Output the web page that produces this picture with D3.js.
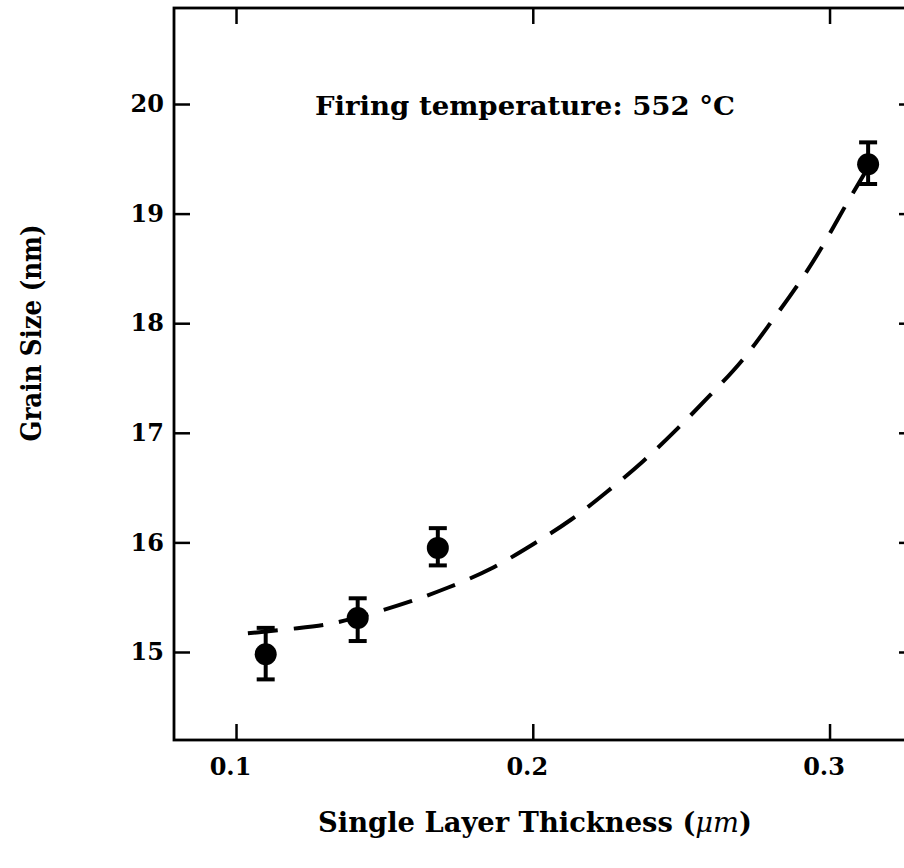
<!DOCTYPE html>
<html>
<head>
<meta charset="utf-8">
<script src="https://cdn.jsdelivr.net/npm/d3@7"></script>
<style>
  html, body { margin: 0; padding: 0; background: #fff; }
  svg { display: block; }
  .axis text { font-family: "DejaVu Serif", serif; font-weight: bold; font-size: 24px; fill: #000; }
  .axis line { stroke: #000; stroke-width: 2.5; }
  .axis path { display: none; }
</style>
</head>
<body>
<svg id="chart"></svg>
<script>
// measured points (thickness in um, grain size in nm)
const thickness = [0.110, 0.141, 0.168, 0.313];
const grainSize = [14.98, 15.31, 15.95, 19.45];
const errLow = [14.75, 15.10, 15.79, 19.27];
const errHigh = [15.22, 15.49, 16.13, 19.65];

// dashed fit curve
const fitX = [0.104, 0.122, 0.132, 0.147, 0.159, 0.171, 0.186, 0.200, 0.213, 0.225,
  0.237, 0.249, 0.260, 0.271, 0.280, 0.289, 0.298, 0.305, 0.313];
const fitY = [15.17, 15.22, 15.25, 15.36, 15.46, 15.58, 15.75, 15.98, 16.20, 16.46,
  16.73, 17.04, 17.35, 17.66, 18.00, 18.33, 18.71, 19.06, 19.42];

const xTicks = [0.1, 0.2, 0.3];
const yTicks = [15, 16, 17, 18, 19, 20];

const W = 904, H = 868;
const frame = { left: 174, right: 915, top: 8, bottom: 740 };

const svg = d3.select("#chart")
  .attr("width", W)
  .attr("height", H);

const xScale = d3.scaleLinear()
  .domain([0.0791, 0.3288])
  .range([frame.left, frame.right]);

const yScale = d3.scaleLinear()
  .domain([14.197, 20.876])
  .range([frame.bottom, frame.top]);

const tickLen = 16;

// axes with inward ticks on all four sides
svg.append("g")
  .attr("class", "axis")
  .attr("transform", `translate(0,${frame.bottom})`)
  .call(d3.axisBottom(xScale).tickValues(xTicks).tickSize(-tickLen).tickPadding(tickLen + 2)
    .tickFormat(d3.format(".1f")))
  .selectAll("text").attr("dx", -6);

svg.append("g")
  .attr("class", "axis")
  .attr("transform", `translate(0,${frame.top})`)
  .call(d3.axisTop(xScale).tickValues(xTicks).tickSize(-tickLen).tickFormat(""));

svg.append("g")
  .attr("class", "axis")
  .attr("transform", `translate(${frame.left},0)`)
  .call(d3.axisLeft(yScale).tickValues(yTicks).tickSize(-tickLen).tickPadding(10)
    .tickFormat(d3.format("d")));

svg.append("g")
  .attr("class", "axis")
  .attr("transform", `translate(${frame.right},0)`)
  .call(d3.axisRight(yScale).tickValues(yTicks).tickSize(-tickLen).tickFormat(""));

// frame
svg.append("rect")
  .attr("x", frame.left)
  .attr("y", frame.top)
  .attr("width", frame.right - frame.left)
  .attr("height", frame.bottom - frame.top)
  .attr("fill", "none")
  .attr("stroke", "#000")
  .attr("stroke-width", 2.8);

// fit curve
const fit = fitX.map((x, i) => [x, fitY[i]]);
const line = d3.line()
  .x(d => xScale(d[0]))
  .y(d => yScale(d[1]))
  .curve(d3.curveBasis);

svg.append("path")
  .datum(fit)
  .attr("d", line)
  .attr("fill", "none")
  .attr("stroke", "#000")
  .attr("stroke-width", 4)
  .attr("stroke-dasharray", "30,16");

// points with error bars
const pts = thickness.map((x, i) => ({ x, y: grainSize[i], lo: errLow[i], hi: errHigh[i] }));
const pg = svg.append("g");

pg.selectAll(".bar")
  .data(pts)
  .enter()
  .append("line")
  .attr("x1", d => xScale(d.x))
  .attr("x2", d => xScale(d.x))
  .attr("y1", d => yScale(d.lo))
  .attr("y2", d => yScale(d.hi))
  .attr("stroke", "#000")
  .attr("stroke-width", 4);

["lo", "hi"].forEach(k => {
  pg.selectAll(".cap-" + k)
    .data(pts)
    .enter()
    .append("line")
    .attr("x1", d => xScale(d.x) - 9)
    .attr("x2", d => xScale(d.x) + 9)
    .attr("y1", d => yScale(d[k]))
    .attr("y2", d => yScale(d[k]))
    .attr("stroke", "#000")
    .attr("stroke-width", 4);
});

pg.selectAll("circle")
  .data(pts)
  .enter()
  .append("circle")
  .attr("cx", d => xScale(d.x))
  .attr("cy", d => yScale(d.y))
  .attr("r", 11)
  .attr("fill", "#000");

// annotation
svg.append("text")
  .attr("x", 315)
  .attr("y", 115)
  .attr("textLength", 420)
  .attr("lengthAdjust", "spacingAndGlyphs")
  .style("font-family", "DejaVu Serif, serif")
  .style("font-weight", "bold")
  .style("font-size", "26px")
  .text("Firing temperature: 552 \u00B0C");

// axis labels
const xl = svg.append("text")
  .attr("x", 535)
  .attr("y", 832)
  .attr("text-anchor", "middle")
  .attr("textLength", 434)
  .attr("lengthAdjust", "spacingAndGlyphs")
  .style("font-family", "DejaVu Serif, serif")
  .style("font-weight", "bold")
  .style("font-size", "27px");
xl.append("tspan").text("Single Layer Thickness (");
xl.append("tspan").style("font-style", "italic").style("font-weight", "normal").text("\u03BCm");
xl.append("tspan").text(")");

svg.append("text")
  .attr("transform", "rotate(-90)")
  .attr("x", -333)
  .attr("y", 41)
  .attr("text-anchor", "middle")
  .attr("textLength", 217)
  .attr("lengthAdjust", "spacingAndGlyphs")
  .style("font-family", "DejaVu Serif, serif")
  .style("font-weight", "bold")
  .style("font-size", "27px")
  .text("Grain Size (nm)");
</script>
</body>
</html>
